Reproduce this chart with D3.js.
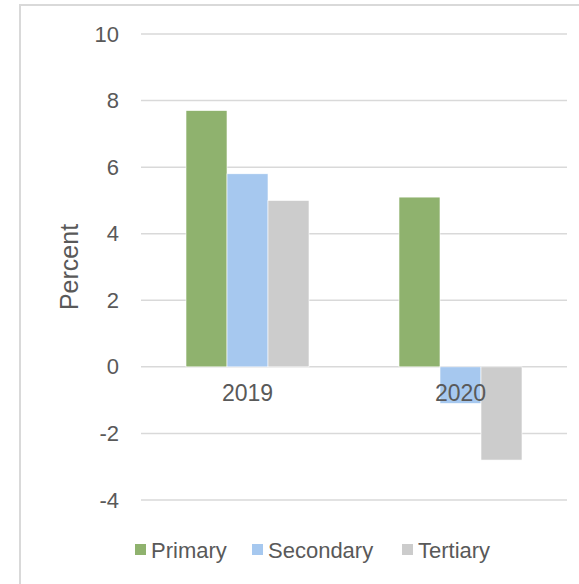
<!DOCTYPE html>
<html>
<head>
<meta charset="utf-8">
<script src="https://cdn.jsdelivr.net/npm/d3@7"></script>
<style>
  html, body { margin: 0; padding: 0; background: #fff; }
  svg { display: block; }
  text { font-family: "Liberation Sans", Arial, sans-serif; fill: #595959; }
</style>
</head>
<body>
<svg id="chart" width="579" height="584"></svg>
<script>
// Growth by sector, percent
const years = ["2019", "2020"];
const sectors = ["Primary", "Secondary", "Tertiary"];
const primary = [7.7, 5.1];
const secondary = [5.8, -1.1];
const tertiary = [5.0, -2.8];
const yTicks = [-4, -2, 0, 2, 4, 6, 8, 10];
const colors = ["#8fb26e", "#a6c8ef", "#cccccc"];

const seriesValues = [primary, secondary, tertiary];
const rows = years.map((y, i) => ({
  year: y,
  values: sectors.map((s, j) => ({ sector: s, value: seriesValues[j][i] }))
}));

const svg = d3.select("#chart");

// frame
svg.append("path")
  .attr("d", "M20,590 L20,5 L590,5")
  .attr("fill", "none")
  .attr("stroke", "#d9d9d9")
  .attr("stroke-width", 2);

const plot = { left: 141, right: 567, top: 34, bottom: 500 };

const y = d3.scaleLinear().domain([-4, 10]).range([plot.bottom, plot.top]);
const x0 = d3.scaleBand().domain(years).range([plot.left, plot.right])
  .paddingInner(0.4225).paddingOuter(0.2113);
const x1 = d3.scaleBand().domain(sectors).range([0, x0.bandwidth()]).padding(0);

// gridlines
svg.append("g").selectAll("line").data(yTicks).join("line")
  .attr("x1", plot.left).attr("x2", plot.right)
  .attr("y1", d => y(d)).attr("y2", d => y(d))
  .attr("stroke", "#d9d9d9").attr("stroke-width", 1.5);

// y axis labels (plain hyphen for negatives)
const yAxis = d3.axisLeft(y).tickValues(yTicks).tickFormat(d => String(d))
  .tickSize(0).tickPadding(0);
const gy = svg.append("g").attr("transform", "translate(119,0)").call(yAxis);
gy.select(".domain").remove();
gy.selectAll("text")
  .style("font-family", "'Liberation Sans', Arial, sans-serif")
  .style("font-size", "22px")
  .attr("fill", "#595959");

// bars
const groups = svg.append("g").selectAll("g").data(rows).join("g")
  .attr("transform", d => `translate(${x0(d.year)},0)`);
groups.selectAll("rect").data(d => d.values).join("rect")
  .attr("x", d => x1(d.sector))
  .attr("width", x1.bandwidth())
  .attr("y", d => y(Math.max(0, d.value)))
  .attr("height", d => Math.abs(y(d.value) - y(0)))
  .attr("fill", (d, i) => colors[i])
  .attr("stroke", "#ffffff").attr("stroke-width", 0.6);

// category labels (drawn above the bars)
const xAxis = d3.axisBottom(x0).tickSize(0).tickPadding(0);
const gx = svg.append("g").attr("transform", `translate(0,${y(0)})`).call(xAxis);
gx.select(".domain").remove();
gx.selectAll("text")
  .attr("dy", "0")
  .attr("y", 34)
  .style("font-family", "'Liberation Sans', Arial, sans-serif")
  .style("font-size", "23px")
  .attr("fill", "#595959");

// axis title
svg.append("text")
  .attr("transform", `translate(78,${(plot.top + plot.bottom) / 2}) rotate(-90)`)
  .attr("text-anchor", "middle")
  .style("font-size", "25px")
  .text("Percent");

// legend
const legendX = [135, 252, 402];
const legend = svg.append("g").selectAll("g").data(sectors).join("g")
  .attr("transform", (d, i) => `translate(${legendX[i]},544)`);
legend.append("rect").attr("width", 11).attr("height", 11)
  .attr("fill", (d, i) => colors[i]);
legend.append("text").attr("x", 16).attr("y", 14)
  .style("font-size", "22px")
  .text(d => d);
</script>
</body>
</html>
